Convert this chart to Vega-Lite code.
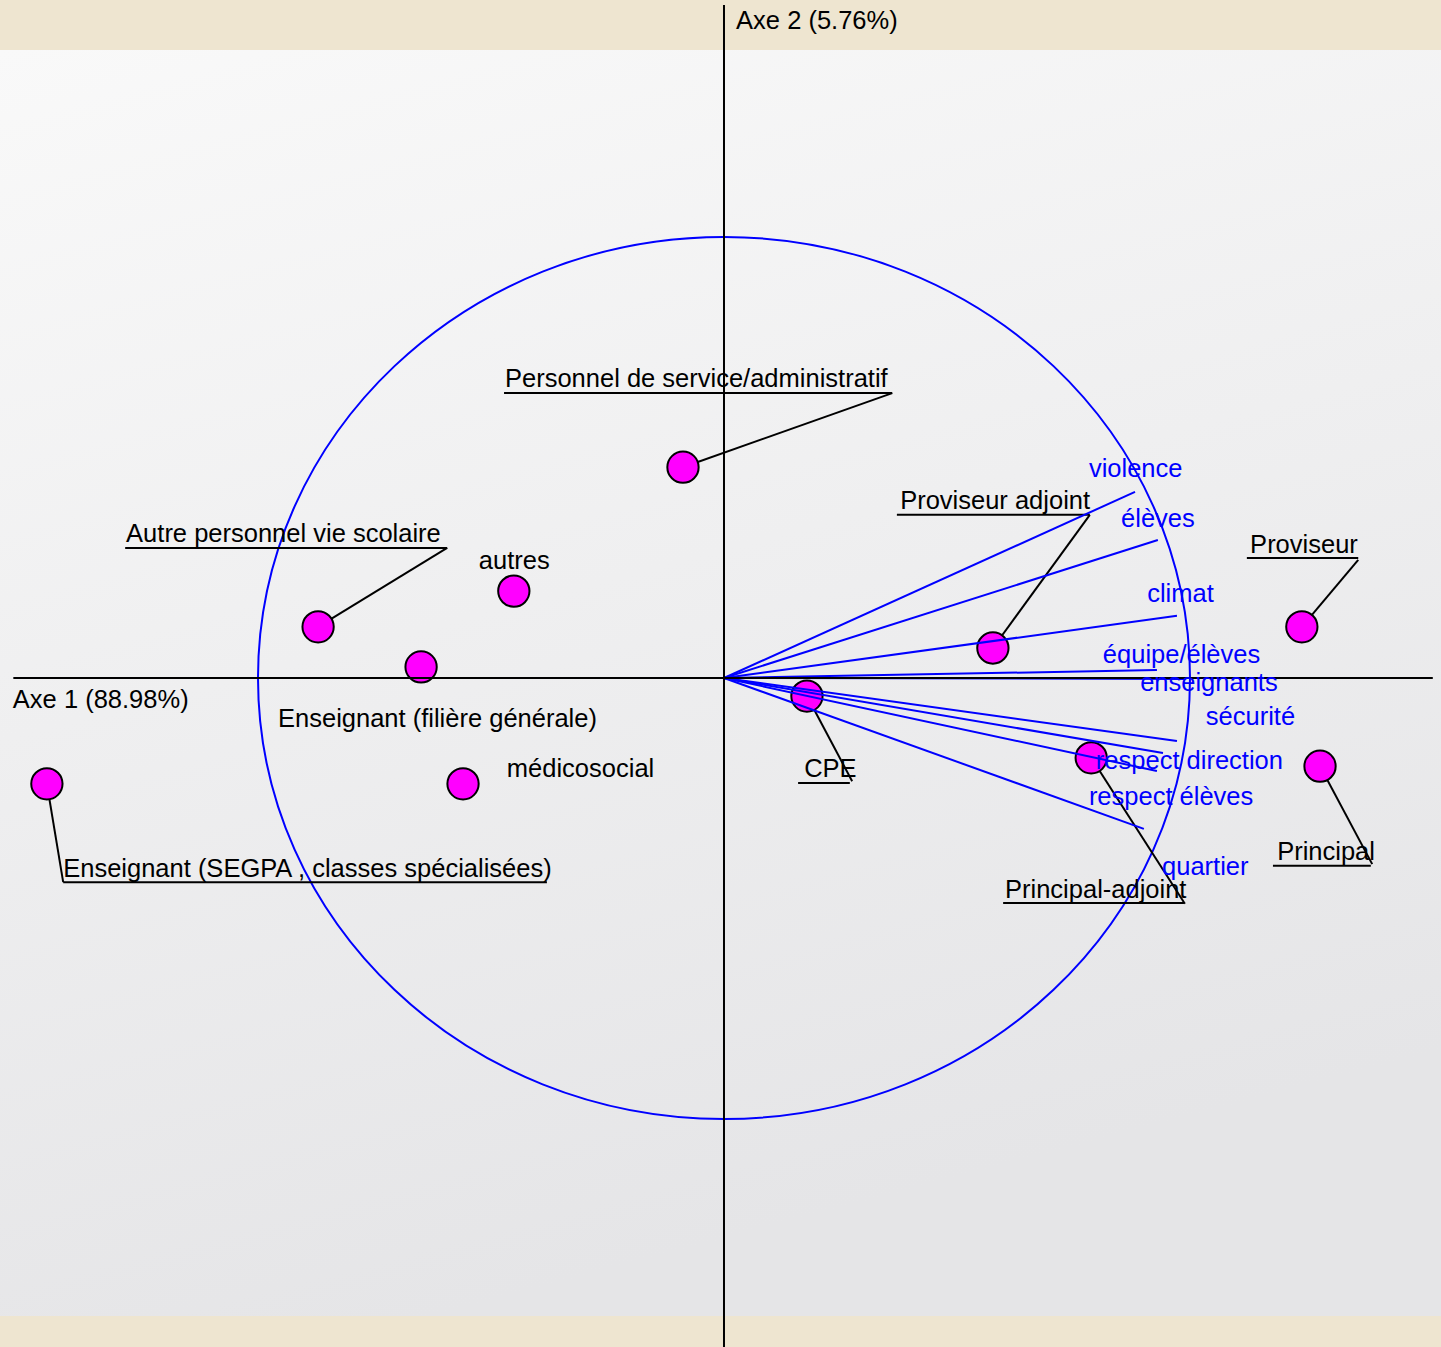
{
  "$schema": "https://vega.github.io/schema/vega-lite/v6.json",
  "autosize": {"type": "none"},
  "width": 1441,
  "height": 1266,
  "padding": {"top": 50, "bottom": 31, "left": 0, "right": 0},
  "background": "#eee5d0",
  "config": {
    "view": {
      "stroke": null,
      "fill": {"gradient": "linear", "x1": 0, "y1": 0, "x2": 0.3, "y2": 1, "stops": [{"offset": 0, "color": "#f9f9f9"}, {"offset": 1, "color": "#e5e5e7"}]}
    }
  },
  "datasets": {
    "cercle": [{"nom": "cercle des corrélations", "x": 0, "y": 0}],
    "axes": [
      {"axe": "Axe 1", "x": -1.525, "x2": 1.521, "y": 0, "y2": 0},
      {"axe": "Axe 2", "x": 0, "x2": 0, "y": 1.526, "y2": -1.517}
    ],
    "vecteurs": [
      {"variable": "violence", "x": 0.882, "y": 0.422},
      {"variable": "élèves", "x": 0.931, "y": 0.313},
      {"variable": "climat", "x": 0.972, "y": 0.141},
      {"variable": "équipe/élèves", "x": 0.929, "y": 0.018},
      {"variable": "enseignants", "x": 0.991, "y": -0.002},
      {"variable": "sécurité", "x": 0.972, "y": -0.143},
      {"variable": "respect direction", "x": 0.942, "y": -0.170},
      {"variable": "respect élèves", "x": 0.929, "y": -0.211},
      {"variable": "quartier", "x": 0.901, "y": -0.342}
    ],
    "points": [
      {"modalite": "Personnel de service/administratif", "x": -0.088, "y": 0.478},
      {"modalite": "Autre personnel vie scolaire", "x": -0.871, "y": 0.116},
      {"modalite": "Enseignant (filière générale)", "x": -0.650, "y": 0.025},
      {"modalite": "autres", "x": -0.451, "y": 0.197},
      {"modalite": "Enseignant (SEGPA , classes spécialisées)", "x": -1.453, "y": -0.240},
      {"modalite": "médicosocial", "x": -0.560, "y": -0.240},
      {"modalite": "CPE", "x": 0.178, "y": -0.041},
      {"modalite": "Proviseur adjoint", "x": 0.577, "y": 0.068},
      {"modalite": "Proviseur", "x": 1.240, "y": 0.116},
      {"modalite": "Principal-adjoint", "x": 0.788, "y": -0.181},
      {"modalite": "Principal", "x": 1.279, "y": -0.200}
    ],
    "soulignes": [
      {"modalite": "Personnel de service/administratif", "x": -0.472, "x2": 0.361, "y": 0.646},
      {"modalite": "Autre personnel vie scolaire", "x": -1.285, "x2": -0.594, "y": 0.295},
      {"modalite": "Enseignant (SEGPA , classes spécialisées)", "x": -1.418, "x2": -0.380, "y": -0.463},
      {"modalite": "CPE", "x": 0.159, "x2": 0.270, "y": -0.238},
      {"modalite": "Proviseur adjoint", "x": 0.371, "x2": 0.785, "y": 0.370},
      {"modalite": "Proviseur", "x": 1.122, "x2": 1.361, "y": 0.272},
      {"modalite": "Principal-adjoint", "x": 0.599, "x2": 0.987, "y": -0.510},
      {"modalite": "Principal", "x": 1.178, "x2": 1.388, "y": -0.426}
    ],
    "renvois": [
      {"modalite": "Personnel de service/administratif", "x": 0.361, "y": 0.646, "x2": -0.088, "y2": 0.478},
      {"modalite": "Autre personnel vie scolaire", "x": -0.594, "y": 0.295, "x2": -0.871, "y2": 0.116},
      {"modalite": "Enseignant (SEGPA , classes spécialisées)", "x": -1.418, "y": -0.463, "x2": -1.453, "y2": -0.240},
      {"modalite": "CPE", "x": 0.275, "y": -0.234, "x2": 0.178, "y2": -0.041},
      {"modalite": "Proviseur adjoint", "x": 0.785, "y": 0.370, "x2": 0.577, "y2": 0.068},
      {"modalite": "Proviseur", "x": 1.361, "y": 0.268, "x2": 1.240, "y2": 0.116},
      {"modalite": "Principal-adjoint", "x": 0.989, "y": -0.512, "x2": 0.788, "y2": -0.181},
      {"modalite": "Principal", "x": 1.391, "y": -0.422, "x2": 1.279, "y2": -0.200}
    ],
    "etiquettes": [
      {"texte": "violence", "groupe": "variable", "x": 0.783, "y": 0.456},
      {"texte": "élèves", "groupe": "variable", "x": 0.852, "y": 0.342},
      {"texte": "climat", "groupe": "variable", "x": 0.908, "y": 0.172},
      {"texte": "équipe/élèves", "groupe": "variable", "x": 0.813, "y": 0.034},
      {"texte": "enseignants", "groupe": "variable", "x": 0.893, "y": -0.029},
      {"texte": "sécurité", "groupe": "variable", "x": 1.034, "y": -0.107},
      {"texte": "respect direction", "groupe": "variable", "x": 0.798, "y": -0.206},
      {"texte": "respect élèves", "groupe": "variable", "x": 0.783, "y": -0.288},
      {"texte": "quartier", "groupe": "variable", "x": 0.940, "y": -0.447},
      {"texte": "Personnel de service/administratif", "groupe": "modalité", "x": -0.470, "y": 0.660},
      {"texte": "Autre personnel vie scolaire", "groupe": "modalité", "x": -1.283, "y": 0.308},
      {"texte": "Enseignant (filière générale)", "groupe": "modalité", "x": -0.957, "y": -0.111},
      {"texte": "autres", "groupe": "modalité", "x": -0.526, "y": 0.247},
      {"texte": "Enseignant (SEGPA , classes spécialisées)", "groupe": "modalité", "x": -1.418, "y": -0.451},
      {"texte": "médicosocial", "groupe": "modalité", "x": -0.466, "y": -0.224},
      {"texte": "CPE", "groupe": "modalité", "x": 0.172, "y": -0.224},
      {"texte": "Proviseur adjoint", "groupe": "modalité", "x": 0.378, "y": 0.383},
      {"texte": "Proviseur", "groupe": "modalité", "x": 1.129, "y": 0.283},
      {"texte": "Principal-adjoint", "groupe": "modalité", "x": 0.603, "y": -0.499},
      {"texte": "Principal", "groupe": "modalité", "x": 1.187, "y": -0.413},
      {"texte": "Axe 1 (88.98%)", "groupe": "axe", "x": -1.526, "y": -0.068},
      {"texte": "Axe 2 (5.76%)", "groupe": "axe", "x": 0.026, "y": 1.472}
    ]
  },
  "layer": [
    {
      "data": {"name": "cercle"},
      "mark": {"type": "point", "shape": "M -1 0 A 1 0.9464 0 1 0 1 0 A 1 0.9464 0 1 0 -1 0 Z", "size": 868624, "filled": false, "stroke": "#0000ff", "strokeWidth": 2, "opacity": 1},
      "encoding": {
        "x": {"field": "x", "type": "quantitative", "scale": {"domain": [-1.5536, 1.5386], "nice": false, "zero": false}, "axis": null},
        "y": {"field": "y", "type": "quantitative", "scale": {"domain": [-1.4467, 1.4240], "nice": false, "zero": false}, "axis": null}
      }
    },
    {
      "data": {"name": "renvois"},
      "mark": {"type": "rule", "stroke": "#000000", "strokeWidth": 2},
      "encoding": {
        "x": {"field": "x", "type": "quantitative", "scale": {"domain": [-1.5536, 1.5386], "nice": false, "zero": false}, "axis": null},
        "y": {"field": "y", "type": "quantitative", "scale": {"domain": [-1.4467, 1.4240], "nice": false, "zero": false}, "axis": null},
        "x2": {"field": "x2"},
        "y2": {"field": "y2"}
      }
    },
    {
      "data": {"name": "soulignes"},
      "mark": {"type": "rule", "stroke": "#000000", "strokeWidth": 2},
      "encoding": {
        "x": {"field": "x", "type": "quantitative", "scale": {"domain": [-1.5536, 1.5386], "nice": false, "zero": false}, "axis": null},
        "y": {"field": "y", "type": "quantitative", "scale": {"domain": [-1.4467, 1.4240], "nice": false, "zero": false}, "axis": null},
        "x2": {"field": "x2"}
      }
    },
    {
      "data": {"name": "points"},
      "mark": {"type": "point", "shape": "circle", "size": 980, "filled": true, "fill": "#ff00ff", "stroke": "#000000", "strokeWidth": 2, "opacity": 1},
      "encoding": {
        "x": {"field": "x", "type": "quantitative", "scale": {"domain": [-1.5536, 1.5386], "nice": false, "zero": false}, "axis": null},
        "y": {"field": "y", "type": "quantitative", "scale": {"domain": [-1.4467, 1.4240], "nice": false, "zero": false}, "axis": null}
      }
    },
    {
      "data": {"name": "vecteurs"},
      "mark": {"type": "rule", "stroke": "#0000ff", "strokeWidth": 2},
      "encoding": {
        "x": {"field": "x", "type": "quantitative", "scale": {"domain": [-1.5536, 1.5386], "nice": false, "zero": false}, "axis": null},
        "y": {"field": "y", "type": "quantitative", "scale": {"domain": [-1.4467, 1.4240], "nice": false, "zero": false}, "axis": null},
        "x2": {"datum": 0},
        "y2": {"datum": 0}
      }
    },
    {
      "data": {"name": "axes"},
      "mark": {"type": "rule", "stroke": "#000000", "strokeWidth": 2},
      "encoding": {
        "x": {"field": "x", "type": "quantitative", "scale": {"domain": [-1.5536, 1.5386], "nice": false, "zero": false}, "axis": null},
        "y": {"field": "y", "type": "quantitative", "scale": {"domain": [-1.4467, 1.4240], "nice": false, "zero": false}, "axis": null},
        "x2": {"field": "x2"},
        "y2": {"field": "y2"}
      }
    },
    {
      "data": {"name": "etiquettes"},
      "mark": {"type": "text", "align": "left", "baseline": "alphabetic", "font": "Liberation Sans", "fontSize": 25.5},
      "encoding": {
        "x": {"field": "x", "type": "quantitative", "scale": {"domain": [-1.5536, 1.5386], "nice": false, "zero": false}, "axis": null},
        "y": {"field": "y", "type": "quantitative", "scale": {"domain": [-1.4467, 1.4240], "nice": false, "zero": false}, "axis": null},
        "text": {"field": "texte"},
        "color": {"field": "groupe", "type": "nominal", "scale": {"domain": ["modalité", "variable", "axe"], "range": ["#000000", "#0000ff", "#000000"]}, "legend": null}
      }
    }
  ]
}
